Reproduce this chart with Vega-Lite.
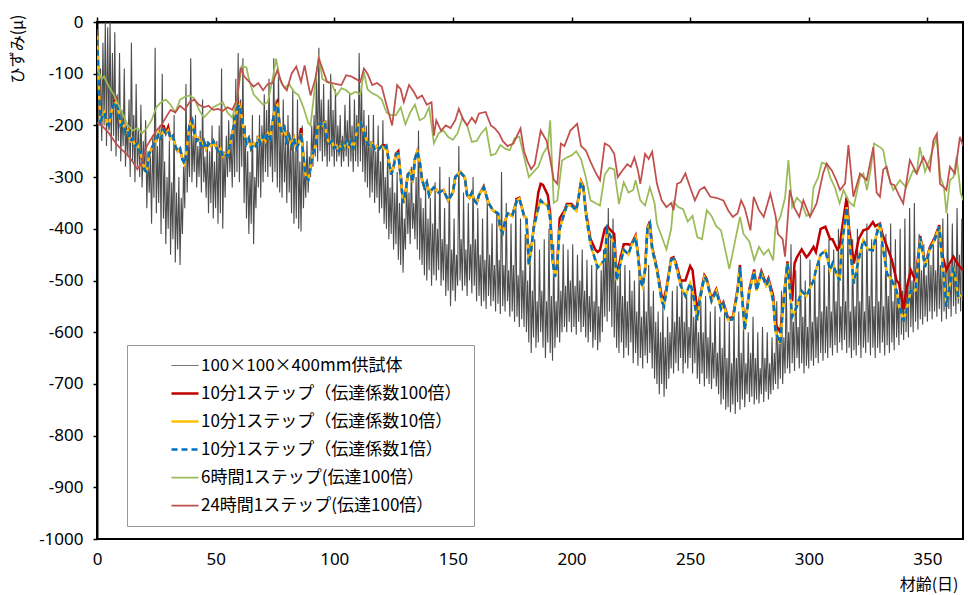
{
"$schema":"https://vega.github.io/schema/vega-lite/v6.json",
"width":866,"height":517,
"autosize":{"type":"none"},
"padding":{"left":97,"top":22,"right":5,"bottom":56},
"background":"white",
"config":{"view":{"stroke":"#000","strokeWidth":2},"font":"Noto Sans","axis":{"grid":false}},
"datasets":{
"g":[{"t":0,"v":-100},{"t":0.5,"v":-60},{"t":1,"v":-190},{"t":1.5,"v":-90},{"t":2,"v":-230},{"t":2.5,"v":-40},{"t":3,"v":-200},{"t":3.5,"v":0},{"t":4,"v":-240},{"t":4.5,"v":-10},{"t":5,"v":-210},{"t":5.5,"v":0},{"t":6,"v":-250},{"t":6.5,"v":-60},{"t":7,"v":-220},{"t":7.5,"v":-20},{"t":8,"v":-260},{"t":8.5,"v":-140},{"t":9,"v":-230},{"t":9.5,"v":-60},
{"t":10,"v":-270},{"t":10.5,"v":-170},{"t":11,"v":-240},{"t":11.5,"v":-90},{"t":12,"v":-280},{"t":12.5,"v":-200},{"t":13,"v":-260},{"t":13.5,"v":-150},{"t":14,"v":-300},{"t":14.5,"v":-40},{"t":15,"v":-270},{"t":15.5,"v":-180},{"t":16,"v":-310},{"t":16.5,"v":-120},{"t":17,"v":-280},{"t":17.5,"v":-210},{"t":18,"v":-300},{"t":18.5,"v":-160},{"t":19,"v":-320},{"t":19.5,"v":-230},
{"t":20,"v":-290},{"t":20.5,"v":-190},{"t":21,"v":-360},{"t":21.5,"v":-250},{"t":22,"v":-330},{"t":22.5,"v":-260},{"t":23,"v":-390},{"t":23.5,"v":-220},{"t":24,"v":-340},{"t":24.5,"v":-50},{"t":25,"v":-370},{"t":25.5,"v":-240},{"t":26,"v":-350},{"t":26.5,"v":-200},{"t":27,"v":-410},{"t":27.5,"v":-100},{"t":28,"v":-380},{"t":28.5,"v":-270},{"t":29,"v":-430},{"t":29.5,"v":-300},
{"t":30,"v":-400},{"t":30.5,"v":-230},{"t":31,"v":-450},{"t":31.5,"v":-310},{"t":32,"v":-420},{"t":32.5,"v":-180},{"t":33,"v":-465},{"t":33.5,"v":-330},{"t":34,"v":-440},{"t":34.5,"v":-300},{"t":35,"v":-470},{"t":35.5,"v":-340},{"t":36,"v":-410},{"t":36.5,"v":-280},{"t":37,"v":-360},{"t":37.5,"v":-120},{"t":38,"v":-330},{"t":38.5,"v":-230},{"t":39,"v":-300},{"t":39.5,"v":-70},
{"t":40,"v":-310},{"t":40.5,"v":-220},{"t":41,"v":-290},{"t":41.5,"v":-180},{"t":42,"v":-320},{"t":42.5,"v":-240},{"t":43,"v":-300},{"t":43.5,"v":-210},{"t":44,"v":-330},{"t":44.5,"v":-150},{"t":45,"v":-310},{"t":45.5,"v":-260},{"t":46,"v":-340},{"t":46.5,"v":-230},{"t":47,"v":-370},{"t":47.5,"v":-250},{"t":48,"v":-350},{"t":48.5,"v":-200},{"t":49,"v":-380},{"t":49.5,"v":-270},
{"t":50,"v":-360},{"t":50.5,"v":-230},{"t":51,"v":-390},{"t":51.5,"v":-200},{"t":52,"v":-370},{"t":52.5,"v":-90},{"t":53,"v":-400},{"t":53.5,"v":-250},{"t":54,"v":-340},{"t":54.5,"v":-220},{"t":55,"v":-300},{"t":55.5,"v":-190},{"t":56,"v":-290},{"t":56.5,"v":-230},{"t":57,"v":-320},{"t":57.5,"v":-180},{"t":58,"v":-300},{"t":58.5,"v":-110},{"t":59,"v":-290},{"t":59.5,"v":-60},
{"t":60,"v":-310},{"t":60.5,"v":-150},{"t":61,"v":-280},{"t":61.5,"v":-70},{"t":62,"v":-350},{"t":62.5,"v":-200},{"t":63,"v":-380},{"t":63.5,"v":-250},{"t":64,"v":-410},{"t":64.5,"v":-290},{"t":65,"v":-390},{"t":65.5,"v":-180},{"t":66,"v":-430},{"t":66.5,"v":-300},{"t":67,"v":-360},{"t":67.5,"v":-220},{"t":68,"v":-320},{"t":68.5,"v":-180},{"t":69,"v":-340},{"t":69.5,"v":-200},
{"t":70,"v":-310},{"t":70.5,"v":-140},{"t":71,"v":-290},{"t":71.5,"v":-170},{"t":72,"v":-300},{"t":72.5,"v":-110},{"t":73,"v":-280},{"t":73.5,"v":-200},{"t":74,"v":-310},{"t":74.5,"v":-70},{"t":75,"v":-290},{"t":75.5,"v":-150},{"t":76,"v":-320},{"t":76.5,"v":-90},{"t":77,"v":-330},{"t":77.5,"v":-210},{"t":78,"v":-340},{"t":78.5,"v":-150},{"t":79,"v":-310},{"t":79.5,"v":-230},
{"t":80,"v":-350},{"t":80.5,"v":-180},{"t":81,"v":-330},{"t":81.5,"v":-240},{"t":82,"v":-370},{"t":82.5,"v":-130},{"t":83,"v":-390},{"t":83.5,"v":-250},{"t":84,"v":-380},{"t":84.5,"v":-150},{"t":85,"v":-400},{"t":85.5,"v":-270},{"t":86,"v":-405},{"t":86.5,"v":-200},{"t":87,"v":-360},{"t":87.5,"v":-280},{"t":88,"v":-340},{"t":88.5,"v":-230},{"t":89,"v":-330},{"t":89.5,"v":-260},
{"t":90,"v":-300},{"t":90.5,"v":-200},{"t":91,"v":-280},{"t":91.5,"v":-180},{"t":92,"v":-260},{"t":92.5,"v":-100},{"t":93,"v":-270},{"t":93.5,"v":-50},{"t":94,"v":-250},{"t":94.5,"v":-150},{"t":95,"v":-270},{"t":95.5,"v":-120},{"t":96,"v":-260},{"t":96.5,"v":-190},{"t":97,"v":-280},{"t":97.5,"v":-150},{"t":98,"v":-270},{"t":98.5,"v":-100},{"t":99,"v":-260},{"t":99.5,"v":-170},
{"t":100,"v":-280},{"t":100.5,"v":-130},{"t":101,"v":-270},{"t":101.5,"v":-200},{"t":102,"v":-260},{"t":102.5,"v":-180},{"t":103,"v":-280},{"t":103.5,"v":-220},{"t":104,"v":-270},{"t":104.5,"v":-160},{"t":105,"v":-260},{"t":105.5,"v":-190},{"t":106,"v":-280},{"t":106.5,"v":-140},{"t":107,"v":-270},{"t":107.5,"v":-200},{"t":108,"v":-290},{"t":108.5,"v":-150},{"t":109,"v":-270},{"t":109.5,"v":-180},
{"t":110,"v":-280},{"t":110.5,"v":-60},{"t":111,"v":-270},{"t":111.5,"v":-120},{"t":112,"v":-290},{"t":112.5,"v":-170},{"t":113,"v":-310},{"t":113.5,"v":-200},{"t":114,"v":-320},{"t":114.5,"v":-180},{"t":115,"v":-340},{"t":115.5,"v":-230},{"t":116,"v":-330},{"t":116.5,"v":-180},{"t":117,"v":-350},{"t":117.5,"v":-250},{"t":118,"v":-340},{"t":118.5,"v":-200},{"t":119,"v":-370},{"t":119.5,"v":-270},
{"t":120,"v":-360},{"t":120.5,"v":-190},{"t":121,"v":-390},{"t":121.5,"v":-300},{"t":122,"v":-400},{"t":122.5,"v":-250},{"t":123,"v":-420},{"t":123.5,"v":-320},{"t":124,"v":-410},{"t":124.5,"v":-280},{"t":125,"v":-440},{"t":125.5,"v":-330},{"t":126,"v":-430},{"t":126.5,"v":-290},{"t":127,"v":-460},{"t":127.5,"v":-350},{"t":128,"v":-470},{"t":128.5,"v":-300},{"t":129,"v":-485},{"t":129.5,"v":-380},
{"t":130,"v":-440},{"t":130.5,"v":-300},{"t":131,"v":-410},{"t":131.5,"v":-330},{"t":132,"v":-430},{"t":132.5,"v":-280},{"t":133,"v":-400},{"t":133.5,"v":-350},{"t":134,"v":-420},{"t":134.5,"v":-300},{"t":135,"v":-440},{"t":135.5,"v":-210},{"t":136,"v":-460},{"t":136.5,"v":-340},{"t":137,"v":-470},{"t":137.5,"v":-360},{"t":138,"v":-490},{"t":138.5,"v":-320},{"t":139,"v":-500},{"t":139.5,"v":-380},
{"t":140,"v":-480},{"t":140.5,"v":-340},{"t":141,"v":-510},{"t":141.5,"v":-390},{"t":142,"v":-490},{"t":142.5,"v":-310},{"t":143,"v":-500},{"t":143.5,"v":-400},{"t":144,"v":-480},{"t":144.5,"v":-280},{"t":145,"v":-510},{"t":145.5,"v":-420},{"t":146,"v":-500},{"t":146.5,"v":-360},{"t":147,"v":-530},{"t":147.5,"v":-430},{"t":148,"v":-520},{"t":148.5,"v":-300},{"t":149,"v":-550},{"t":149.5,"v":-440},
{"t":150,"v":-520},{"t":150.5,"v":-380},{"t":151,"v":-540},{"t":151.5,"v":-450},{"t":152,"v":-510},{"t":152.5,"v":-240},{"t":153,"v":-500},{"t":153.5,"v":-420},{"t":154,"v":-520},{"t":154.5,"v":-330},{"t":155,"v":-510},{"t":155.5,"v":-440},{"t":156,"v":-530},{"t":156.5,"v":-350},{"t":157,"v":-500},{"t":157.5,"v":-430},{"t":158,"v":-525},{"t":158.5,"v":-300},{"t":159,"v":-510},{"t":159.5,"v":-420},
{"t":160,"v":-540},{"t":160.5,"v":-360},{"t":161,"v":-530},{"t":161.5,"v":-450},{"t":162,"v":-550},{"t":162.5,"v":-380},{"t":163,"v":-540},{"t":163.5,"v":-460},{"t":164,"v":-555},{"t":164.5,"v":-340},{"t":165,"v":-530},{"t":165.5,"v":-450},{"t":166,"v":-550},{"t":166.5,"v":-390},{"t":167,"v":-540},{"t":167.5,"v":-470},{"t":168,"v":-560},{"t":168.5,"v":-370},{"t":169,"v":-545},{"t":169.5,"v":-460},
{"t":170,"v":-565},{"t":170.5,"v":-290},{"t":171,"v":-550},{"t":171.5,"v":-470},{"t":172,"v":-560},{"t":172.5,"v":-350},{"t":173,"v":-540},{"t":173.5,"v":-480},{"t":174,"v":-570},{"t":174.5,"v":-390},{"t":175,"v":-560},{"t":175.5,"v":-470},{"t":176,"v":-580},{"t":176.5,"v":-340},{"t":177,"v":-570},{"t":177.5,"v":-490},{"t":178,"v":-590},{"t":178.5,"v":-380},{"t":179,"v":-575},{"t":179.5,"v":-480},
{"t":180,"v":-590},{"t":180.5,"v":-410},{"t":181,"v":-600},{"t":181.5,"v":-500},{"t":182,"v":-620},{"t":182.5,"v":-430},{"t":183,"v":-640},{"t":183.5,"v":-520},{"t":184,"v":-610},{"t":184.5,"v":-420},{"t":185,"v":-630},{"t":185.5,"v":-540},{"t":186,"v":-620},{"t":186.5,"v":-440},{"t":187,"v":-600},{"t":187.5,"v":-520},{"t":188,"v":-630},{"t":188.5,"v":-420},{"t":189,"v":-650},{"t":189.5,"v":-540},
{"t":190,"v":-620},{"t":190.5,"v":-400},{"t":191,"v":-640},{"t":191.5,"v":-530},{"t":192,"v":-655},{"t":192.5,"v":-430},{"t":193,"v":-630},{"t":193.5,"v":-540},{"t":194,"v":-610},{"t":194.5,"v":-460},{"t":195,"v":-620},{"t":195.5,"v":-520},{"t":196,"v":-600},{"t":196.5,"v":-430},{"t":197,"v":-590},{"t":197.5,"v":-510},{"t":198,"v":-600},{"t":198.5,"v":-440},{"t":199,"v":-580},{"t":199.5,"v":-500},
{"t":200,"v":-600},{"t":200.5,"v":-430},{"t":201,"v":-590},{"t":201.5,"v":-510},{"t":202,"v":-605},{"t":202.5,"v":-450},{"t":203,"v":-580},{"t":203.5,"v":-500},{"t":204,"v":-600},{"t":204.5,"v":-440},{"t":205,"v":-590},{"t":205.5,"v":-520},{"t":206,"v":-610},{"t":206.5,"v":-460},{"t":207,"v":-620},{"t":207.5,"v":-530},{"t":208,"v":-600},{"t":208.5,"v":-470},{"t":209,"v":-630},{"t":209.5,"v":-540},
{"t":210,"v":-615},{"t":210.5,"v":-460},{"t":211,"v":-635},{"t":211.5,"v":-550},{"t":212,"v":-620},{"t":212.5,"v":-480},{"t":213,"v":-600},{"t":213.5,"v":-440},{"t":214,"v":-570},{"t":214.5,"v":-400},{"t":215,"v":-580},{"t":215.5,"v":-360},{"t":216,"v":-560},{"t":216.5,"v":-420},{"t":217,"v":-590},{"t":217.5,"v":-380},{"t":218,"v":-610},{"t":218.5,"v":-470},{"t":219,"v":-630},{"t":219.5,"v":-510},
{"t":220,"v":-640},{"t":220.5,"v":-450},{"t":221,"v":-620},{"t":221.5,"v":-530},{"t":222,"v":-650},{"t":222.5,"v":-470},{"t":223,"v":-630},{"t":223.5,"v":-540},{"t":224,"v":-645},{"t":224.5,"v":-480},{"t":225,"v":-620},{"t":225.5,"v":-520},{"t":226,"v":-660},{"t":226.5,"v":-500},{"t":227,"v":-640},{"t":227.5,"v":-560},{"t":228,"v":-665},{"t":228.5,"v":-480},{"t":229,"v":-650},{"t":229.5,"v":-570},
{"t":230,"v":-670},{"t":230.5,"v":-510},{"t":231,"v":-645},{"t":231.5,"v":-560},{"t":232,"v":-660},{"t":232.5,"v":-470},{"t":233,"v":-640},{"t":233.5,"v":-550},{"t":234,"v":-670},{"t":234.5,"v":-520},{"t":235,"v":-690},{"t":235.5,"v":-580},{"t":236,"v":-700},{"t":236.5,"v":-560},{"t":237,"v":-720},{"t":237.5,"v":-600},{"t":238,"v":-700},{"t":238.5,"v":-550},{"t":239,"v":-725},{"t":239.5,"v":-610},
{"t":240,"v":-710},{"t":240.5,"v":-570},{"t":241,"v":-690},{"t":241.5,"v":-600},{"t":242,"v":-670},{"t":242.5,"v":-520},{"t":243,"v":-680},{"t":243.5,"v":-580},{"t":244,"v":-660},{"t":244.5,"v":-510},{"t":245,"v":-675},{"t":245.5,"v":-570},{"t":246,"v":-650},{"t":246.5,"v":-500},{"t":247,"v":-680},{"t":247.5,"v":-580},{"t":248,"v":-660},{"t":248.5,"v":-520},{"t":249,"v":-670},{"t":249.5,"v":-590},
{"t":250,"v":-650},{"t":250.5,"v":-510},{"t":251,"v":-680},{"t":251.5,"v":-570},{"t":252,"v":-660},{"t":252.5,"v":-530},{"t":253,"v":-690},{"t":253.5,"v":-600},{"t":254,"v":-700},{"t":254.5,"v":-540},{"t":255,"v":-680},{"t":255.5,"v":-600},{"t":256,"v":-705},{"t":256.5,"v":-530},{"t":257,"v":-690},{"t":257.5,"v":-610},{"t":258,"v":-700},{"t":258.5,"v":-560},{"t":259,"v":-710},{"t":259.5,"v":-620},
{"t":260,"v":-690},{"t":260.5,"v":-550},{"t":261,"v":-705},{"t":261.5,"v":-640},{"t":262,"v":-720},{"t":262.5,"v":-570},{"t":263,"v":-740},{"t":263.5,"v":-630},{"t":264,"v":-730},{"t":264.5,"v":-560},{"t":265,"v":-750},{"t":265.5,"v":-650},{"t":266,"v":-745},{"t":266.5,"v":-580},{"t":267,"v":-755},{"t":267.5,"v":-660},{"t":268,"v":-740},{"t":268.5,"v":-570},{"t":269,"v":-758},{"t":269.5,"v":-650},
{"t":270,"v":-735},{"t":270.5,"v":-560},{"t":271,"v":-750},{"t":271.5,"v":-640},{"t":272,"v":-730},{"t":272.5,"v":-580},{"t":273,"v":-745},{"t":273.5,"v":-660},{"t":274,"v":-720},{"t":274.5,"v":-600},{"t":275,"v":-735},{"t":275.5,"v":-640},{"t":276,"v":-725},{"t":276.5,"v":-570},{"t":277,"v":-740},{"t":277.5,"v":-650},{"t":278,"v":-730},{"t":278.5,"v":-600},{"t":279,"v":-738},{"t":279.5,"v":-670},
{"t":280,"v":-720},{"t":280.5,"v":-590},{"t":281,"v":-735},{"t":281.5,"v":-650},{"t":282,"v":-715},{"t":282.5,"v":-600},{"t":283,"v":-730},{"t":283.5,"v":-660},{"t":284,"v":-720},{"t":284.5,"v":-610},{"t":285,"v":-712},{"t":285.5,"v":-640},{"t":286,"v":-700},{"t":286.5,"v":-540},{"t":287,"v":-710},{"t":287.5,"v":-620},{"t":288,"v":-690},{"t":288.5,"v":-520},{"t":289,"v":-700},{"t":289.5,"v":-610},
{"t":290,"v":-680},{"t":290.5,"v":-500},{"t":291,"v":-670},{"t":291.5,"v":-600},{"t":292,"v":-680},{"t":292.5,"v":-430},{"t":293,"v":-660},{"t":293.5,"v":-580},{"t":294,"v":-675},{"t":294.5,"v":-480},{"t":295,"v":-650},{"t":295.5,"v":-590},{"t":296,"v":-670},{"t":296.5,"v":-450},{"t":297,"v":-660},{"t":297.5,"v":-570},{"t":298,"v":-680},{"t":298.5,"v":-500},{"t":299,"v":-665},{"t":299.5,"v":-590},
{"t":300,"v":-670},{"t":300.5,"v":-460},{"t":301,"v":-655},{"t":301.5,"v":-580},{"t":302,"v":-665},{"t":302.5,"v":-480},{"t":303,"v":-650},{"t":303.5,"v":-570},{"t":304,"v":-660},{"t":304.5,"v":-450},{"t":305,"v":-640},{"t":305.5,"v":-560},{"t":306,"v":-655},{"t":306.5,"v":-470},{"t":307,"v":-640},{"t":307.5,"v":-550},{"t":308,"v":-650},{"t":308.5,"v":-420},{"t":309,"v":-630},{"t":309.5,"v":-560},
{"t":310,"v":-645},{"t":310.5,"v":-440},{"t":311,"v":-625},{"t":311.5,"v":-540},{"t":312,"v":-640},{"t":312.5,"v":-400},{"t":313,"v":-620},{"t":313.5,"v":-550},{"t":314,"v":-635},{"t":314.5,"v":-430},{"t":315,"v":-615},{"t":315.5,"v":-540},{"t":316,"v":-640},{"t":316.5,"v":-390},{"t":317,"v":-630},{"t":317.5,"v":-560},{"t":318,"v":-650},{"t":318.5,"v":-420},{"t":319,"v":-635},{"t":319.5,"v":-550},
{"t":320,"v":-645},{"t":320.5,"v":-400},{"t":321,"v":-625},{"t":321.5,"v":-540},{"t":322,"v":-650},{"t":322.5,"v":-430},{"t":323,"v":-630},{"t":323.5,"v":-560},{"t":324,"v":-640},{"t":324.5,"v":-390},{"t":325,"v":-620},{"t":325.5,"v":-530},{"t":326,"v":-645},{"t":326.5,"v":-420},{"t":327,"v":-630},{"t":327.5,"v":-550},{"t":328,"v":-650},{"t":328.5,"v":-400},{"t":329,"v":-630},{"t":329.5,"v":-540},
{"t":330,"v":-640},{"t":330.5,"v":-430},{"t":331,"v":-620},{"t":331.5,"v":-550},{"t":332,"v":-645},{"t":332.5,"v":-410},{"t":333,"v":-625},{"t":333.5,"v":-530},{"t":334,"v":-640},{"t":334.5,"v":-390},{"t":335,"v":-620},{"t":335.5,"v":-540},{"t":336,"v":-635},{"t":336.5,"v":-420},{"t":337,"v":-610},{"t":337.5,"v":-530},{"t":338,"v":-625},{"t":338.5,"v":-400},{"t":339,"v":-605},{"t":339.5,"v":-520},
{"t":340,"v":-615},{"t":340.5,"v":-380},{"t":341,"v":-600},{"t":341.5,"v":-510},{"t":342,"v":-610},{"t":342.5,"v":-360},{"t":343,"v":-590},{"t":343.5,"v":-500},{"t":344,"v":-600},{"t":344.5,"v":-350},{"t":345,"v":-580},{"t":345.5,"v":-490},{"t":346,"v":-595},{"t":346.5,"v":-410},{"t":347,"v":-575},{"t":347.5,"v":-480},{"t":348,"v":-585},{"t":348.5,"v":-430},{"t":349,"v":-570},{"t":349.5,"v":-490},
{"t":350,"v":-580},{"t":350.5,"v":-440},{"t":351,"v":-560},{"t":351.5,"v":-470},{"t":352,"v":-575},{"t":352.5,"v":-420},{"t":353,"v":-560},{"t":353.5,"v":-480},{"t":354,"v":-570},{"t":354.5,"v":-400},{"t":355,"v":-555},{"t":355.5,"v":-470},{"t":356,"v":-580},{"t":356.5,"v":-380},{"t":357,"v":-560},{"t":357.5,"v":-480},{"t":358,"v":-575},{"t":358.5,"v":-370},{"t":359,"v":-555},{"t":359.5,"v":-470},
{"t":360,"v":-570},{"t":360.5,"v":-390},{"t":361,"v":-550},{"t":361.5,"v":-460},{"t":362,"v":-565},{"t":362.5,"v":-360},{"t":363,"v":-545},{"t":363.5,"v":-450},{"t":364,"v":-560},{"t":364.5,"v":-380},{"t":365,"v":-540}],
"m":[{"t":0,"b":-15,"c":-15,"d":-15},{"t":0.5,"b":-90,"c":-90,"d":-90},{"t":1,"b":-150,"c":-150,"d":-150},{"t":1.5,"b":-200,"c":-200,"d":-200},{"t":2,"b":-185,"c":-185,"d":-185},{"t":3,"b":-175,"c":-175,"d":-175},{"t":4,"b":-190,"c":-190,"d":-190},{"t":5,"b":-200,"c":-200,"d":-200},{"t":6,"b":-175,"c":-175,"d":-175},{"t":7,"b":-160,"c":-160,"d":-160},{"t":8,"b":-150,"c":-155,"d":-155},{"t":9,"b":-170,"c":-170,"d":-170},
{"t":10,"b":-200,"c":-200,"d":-200},{"t":11,"b":-195,"c":-195,"d":-195},{"t":12,"b":-215,"c":-215,"d":-215},{"t":13,"b":-210,"c":-210,"d":-210},{"t":14,"b":-230,"c":-230,"d":-230},{"t":15,"b":-225,"c":-225,"d":-225},{"t":16,"b":-240,"c":-240,"d":-240},{"t":17,"b":-235,"c":-235,"d":-235},{"t":18,"b":-250,"c":-250,"d":-250},{"t":19,"b":-265,"c":-265,"d":-265},
{"t":20,"b":-285,"c":-285,"d":-285},{"t":21,"b":-290,"c":-290,"d":-290},{"t":22,"b":-255,"c":-255,"d":-255},{"t":23,"b":-245,"c":-245,"d":-245},{"t":24,"b":-235,"c":-235,"d":-235},{"t":25,"b":-230,"c":-230,"d":-230},{"t":26,"b":-215,"c":-215,"d":-215},{"t":27,"b":-225,"c":-225,"d":-225},{"t":28,"b":-200,"c":-208,"d":-208},{"t":29,"b":-215,"c":-215,"d":-215},
{"t":30,"b":-203,"c":-210,"d":-210},{"t":31,"b":-225,"c":-225,"d":-225},{"t":32,"b":-220,"c":-220,"d":-220},{"t":33,"b":-240,"c":-240,"d":-240},{"t":34,"b":-250,"c":-250,"d":-250},{"t":35,"b":-245,"c":-245,"d":-245},{"t":36,"b":-265,"c":-265,"d":-265},{"t":37,"b":-275,"c":-275,"d":-275},{"t":38,"b":-240,"c":-240,"d":-240},{"t":39,"b":-200,"c":-200,"d":-200},
{"t":40,"b":-185,"c":-190,"d":-190},{"t":41,"b":-215,"c":-215,"d":-215},{"t":42,"b":-230,"c":-230,"d":-230},{"t":43,"b":-225,"c":-225,"d":-225},{"t":44,"b":-240,"c":-240,"d":-240},{"t":45,"b":-230,"c":-230,"d":-230},{"t":46,"b":-245,"c":-245,"d":-245},{"t":47,"b":-235,"c":-235,"d":-235},{"t":48,"b":-240,"c":-240,"d":-240},{"t":49,"b":-230,"c":-230,"d":-230},
{"t":50,"b":-240,"c":-240,"d":-240},{"t":51,"b":-250,"c":-250,"d":-250},{"t":52,"b":-245,"c":-245,"d":-245},{"t":53,"b":-260,"c":-260,"d":-260},{"t":54,"b":-255,"c":-255,"d":-255},{"t":55,"b":-260,"c":-260,"d":-260},{"t":56,"b":-240,"c":-240,"d":-240},{"t":57,"b":-215,"c":-215,"d":-215},{"t":58,"b":-195,"c":-195,"d":-195},{"t":59,"b":-170,"c":-170,"d":-170},
{"t":60,"b":-155,"c":-160,"d":-160},{"t":61,"b":-185,"c":-185,"d":-185},{"t":62,"b":-215,"c":-215,"d":-215},{"t":63,"b":-235,"c":-235,"d":-235},{"t":64,"b":-225,"c":-225,"d":-225},{"t":65,"b":-245,"c":-245,"d":-245},{"t":66,"b":-235,"c":-235,"d":-235},{"t":67,"b":-240,"c":-240,"d":-240},{"t":68,"b":-225,"c":-225,"d":-225},{"t":69,"b":-235,"c":-235,"d":-235},
{"t":70,"b":-220,"c":-220,"d":-220},{"t":71,"b":-230,"c":-230,"d":-230},{"t":72,"b":-215,"c":-215,"d":-215},{"t":73,"b":-225,"c":-225,"d":-225},{"t":74,"b":-195,"c":-195,"d":-195},{"t":75,"b":-165,"c":-165,"d":-165},{"t":76,"b":-155,"c":-160,"d":-160},{"t":77,"b":-200,"c":-200,"d":-200},{"t":78,"b":-215,"c":-215,"d":-215},{"t":79,"b":-205,"c":-205,"d":-205},
{"t":80,"b":-230,"c":-230,"d":-230},{"t":81,"b":-220,"c":-220,"d":-220},{"t":82,"b":-240,"c":-240,"d":-240},{"t":83,"b":-225,"c":-225,"d":-225},{"t":84,"b":-245,"c":-245,"d":-245},{"t":85,"b":-235,"c":-235,"d":-235},{"t":86,"b":-205,"c":-215,"d":-215},{"t":87,"b":-260,"c":-260,"d":-260},{"t":88,"b":-300,"c":-300,"d":-300},{"t":89,"b":-305,"c":-305,"d":-305},
{"t":90,"b":-280,"c":-280,"d":-280},{"t":91,"b":-255,"c":-255,"d":-255},{"t":92,"b":-240,"c":-240,"d":-240},{"t":93,"b":-205,"c":-205,"d":-205},{"t":94,"b":-195,"c":-195,"d":-195},{"t":95,"b":-200,"c":-200,"d":-200},{"t":96,"b":-195,"c":-195,"d":-195},{"t":97,"b":-225,"c":-225,"d":-225},{"t":98,"b":-235,"c":-235,"d":-235},{"t":99,"b":-230,"c":-230,"d":-230},
{"t":100,"b":-245,"c":-245,"d":-245},{"t":101,"b":-240,"c":-240,"d":-240},{"t":102,"b":-250,"c":-250,"d":-250},{"t":103,"b":-235,"c":-235,"d":-235},{"t":104,"b":-245,"c":-245,"d":-245},{"t":105,"b":-230,"c":-230,"d":-230},{"t":106,"b":-240,"c":-240,"d":-240},{"t":107,"b":-230,"c":-230,"d":-230},{"t":108,"b":-245,"c":-245,"d":-245},{"t":109,"b":-225,"c":-225,"d":-225},
{"t":110,"b":-200,"c":-200,"d":-200},{"t":111,"b":-195,"c":-195,"d":-195},{"t":112,"b":-205,"c":-205,"d":-205},{"t":113,"b":-220,"c":-220,"d":-220},{"t":114,"b":-235,"c":-235,"d":-235},{"t":115,"b":-240,"c":-240,"d":-240},{"t":116,"b":-235,"c":-235,"d":-235},{"t":117,"b":-245,"c":-245,"d":-245},{"t":118,"b":-240,"c":-240,"d":-240},{"t":119,"b":-245,"c":-245,"d":-245},
{"t":120,"b":-240,"c":-240,"d":-240},{"t":121,"b":-238,"c":-245,"d":-245},{"t":122,"b":-240,"c":-240,"d":-240},{"t":123,"b":-270,"c":-270,"d":-270},{"t":124,"b":-295,"c":-295,"d":-295},{"t":125,"b":-280,"c":-280,"d":-280},{"t":126,"b":-255,"c":-255,"d":-255},{"t":127,"b":-250,"c":-255,"d":-255},{"t":128,"b":-300,"c":-300,"d":-300},{"t":129,"b":-350,"c":-350,"d":-350},
{"t":130,"b":-330,"c":-330,"d":-330},{"t":131,"b":-295,"c":-295,"d":-295},{"t":132,"b":-290,"c":-290,"d":-290},{"t":133,"b":-310,"c":-310,"d":-310},{"t":134,"b":-265,"c":-265,"d":-265},{"t":135,"b":-250,"c":-250,"d":-250},{"t":136,"b":-270,"c":-270,"d":-270},{"t":137,"b":-305,"c":-305,"d":-305},{"t":138,"b":-320,"c":-320,"d":-320},{"t":139,"b":-310,"c":-310,"d":-310},
{"t":140,"b":-335,"c":-335,"d":-335},{"t":141,"b":-325,"c":-325,"d":-325},{"t":142,"b":-320,"c":-320,"d":-320},{"t":144,"b":-330,"c":-330,"d":-330},{"t":146,"b":-325,"c":-325,"d":-325},{"t":148,"b":-345,"c":-345,"d":-345},{"t":150,"b":-330,"c":-330,"d":-330},{"t":151,"b":-300,"c":-300,"d":-300},{"t":153,"b":-290,"c":-290,"d":-290},{"t":155,"b":-300,"c":-300,"d":-300},
{"t":156,"b":-335,"c":-335,"d":-335},{"t":157,"b":-340,"c":-340,"d":-340},{"t":158,"b":-330,"c":-330,"d":-330},{"t":159,"b":-345,"c":-345,"d":-345},{"t":160,"b":-350,"c":-350,"d":-350},{"t":161,"b":-335,"c":-335,"d":-335},{"t":163,"b":-318,"c":-320,"d":-320},{"t":165,"b":-350,"c":-350,"d":-350},{"t":167,"b":-365,"c":-365,"d":-365},{"t":169,"b":-370,"c":-370,"d":-370},
{"t":170,"b":-400,"c":-400,"d":-400},{"t":171,"b":-405,"c":-408,"d":-408},{"t":172,"b":-385,"c":-385,"d":-385},{"t":173,"b":-370,"c":-370,"d":-370},{"t":175,"b":-375,"c":-375,"d":-375},{"t":177,"b":-342,"c":-345,"d":-345},{"t":178,"b":-340,"c":-342,"d":-342},{"t":180,"b":-375,"c":-375,"d":-375},{"t":181,"b":-380,"c":-380,"d":-380},{"t":182,"b":-465,"c":-470,"d":-470},
{"t":183,"b":-440,"c":-440,"d":-440},{"t":184,"b":-400,"c":-400,"d":-400},{"t":186,"b":-330,"c":-360,"d":-360},{"t":187,"b":-313,"c":-345,"d":-345},{"t":188,"b":-315,"c":-350,"d":-350},{"t":190,"b":-335,"c":-355,"d":-355},{"t":191,"b":-370,"c":-380,"d":-380},{"t":192,"b":-460,"c":-460,"d":-460},{"t":193,"b":-490,"c":-493,"d":-493},{"t":194,"b":-465,"c":-470,"d":-470},
{"t":195,"b":-380,"c":-400,"d":-400},{"t":197,"b":-365,"c":-370,"d":-370},{"t":198,"b":-352,"c":-355,"d":-355},{"t":200,"b":-352,"c":-355,"d":-355},{"t":202,"b":-362,"c":-365,"d":-365},{"t":203,"b":-338,"c":-340,"d":-340},{"t":204,"b":-308,"c":-310,"d":-310},{"t":205,"b":-318,"c":-320,"d":-320},{"t":206,"b":-365,"c":-370,"d":-370},{"t":208,"b":-420,"c":-430,"d":-430},
{"t":210,"b":-440,"c":-460,"d":-460},{"t":211,"b":-445,"c":-475,"d":-475},{"t":212,"b":-441,"c":-470,"d":-470},{"t":214,"b":-400,"c":-460,"d":-460},{"t":215,"b":-395,"c":-400,"d":-400},{"t":216,"b":-400,"c":-410,"d":-410},{"t":218,"b":-410,"c":-430,"d":-430},{"t":219,"b":-490,"c":-500,"d":-500},{"t":220,"b":-470,"c":-480,"d":-480},{"t":222,"b":-430,"c":-440,"d":-440},
{"t":224,"b":-430,"c":-450,"d":-450},{"t":225,"b":-432,"c":-435,"d":-435},{"t":227,"b":-413,"c":-416,"d":-416},{"t":228,"b":-448,"c":-450,"d":-450},{"t":229,"b":-495,"c":-500,"d":-500},{"t":230,"b":-508,"c":-512,"d":-512},{"t":231,"b":-478,"c":-480,"d":-480},{"t":232,"b":-398,"c":-400,"d":-400},{"t":233,"b":-386,"c":-390,"d":-390},{"t":234,"b":-436,"c":-440,"d":-440},
{"t":236,"b":-476,"c":-480,"d":-480},{"t":238,"b":-530,"c":-540,"d":-540},{"t":239,"b":-535,"c":-550,"d":-550},{"t":240,"b":-515,"c":-520,"d":-520},{"t":242,"b":-457,"c":-460,"d":-460},{"t":243,"b":-455,"c":-458,"d":-458},{"t":244,"b":-466,"c":-470,"d":-470},{"t":246,"b":-500,"c":-510,"d":-510},{"t":248,"b":-500,"c":-530,"d":-530},{"t":250,"b":-472,"c":-505,"d":-505},
{"t":251,"b":-480,"c":-520,"d":-520},{"t":253,"b":-560,"c":-577,"d":-577},{"t":254,"b":-535,"c":-540,"d":-540},{"t":256,"b":-490,"c":-493,"d":-493},{"t":257,"b":-497,"c":-500,"d":-500},{"t":259,"b":-536,"c":-540,"d":-540},{"t":261,"b":-517,"c":-520,"d":-520},{"t":263,"b":-550,"c":-555,"d":-555},{"t":264,"b":-542,"c":-545,"d":-545},{"t":266,"b":-573,"c":-577,"d":-577},
{"t":268,"b":-571,"c":-575,"d":-575},{"t":270,"b":-516,"c":-520,"d":-520},{"t":271,"b":-470,"c":-474,"d":-474},{"t":272,"b":-536,"c":-540,"d":-540},{"t":273,"b":-590,"c":-596,"d":-596},{"t":275,"b":-516,"c":-520,"d":-520},{"t":277,"b":-479,"c":-483,"d":-483},{"t":278,"b":-516,"c":-520,"d":-520},{"t":280,"b":-482,"c":-486,"d":-486},{"t":282,"b":-506,"c":-510,"d":-510},
{"t":283,"b":-496,"c":-500,"d":-500},{"t":285,"b":-530,"c":-540,"d":-540},{"t":286,"b":-585,"c":-600,"d":-600},{"t":288,"b":-600,"c":-622,"d":-622},{"t":289,"b":-555,"c":-560,"d":-560},{"t":291,"b":-463,"c":-467,"d":-467},{"t":293,"b":-540,"c":-570,"d":-570},{"t":294,"b":-467,"c":-560,"d":-560},{"t":295,"b":-455,"c":-550,"d":-550},{"t":297,"b":-440,"c":-520,"d":-520},
{"t":299,"b":-455,"c":-530,"d":-530},{"t":300,"b":-450,"c":-520,"d":-520},{"t":302,"b":-435,"c":-500,"d":-500},{"t":303,"b":-445,"c":-480,"d":-480},{"t":305,"b":-400,"c":-450,"d":-450},{"t":307,"b":-396,"c":-442,"d":-442},{"t":309,"b":-420,"c":-480,"d":-480},{"t":310,"b":-420,"c":-467,"d":-467},{"t":312,"b":-440,"c":-490,"d":-490},{"t":313,"b":-435,"c":-500,"d":-500},
{"t":314,"b":-400,"c":-430,"d":-430},{"t":316,"b":-338,"c":-358,"d":-358},{"t":317,"b":-400,"c":-420,"d":-420},{"t":319,"b":-467,"c":-506,"d":-506},{"t":321,"b":-420,"c":-460,"d":-460},{"t":323,"b":-403,"c":-422,"d":-422},{"t":325,"b":-400,"c":-440,"d":-440},{"t":327,"b":-387,"c":-442,"d":-442},{"t":328,"b":-395,"c":-420,"d":-420},{"t":330,"b":-390,"c":-390,"d":-390},
{"t":331,"b":-410,"c":-430,"d":-430},{"t":333,"b":-435,"c":-487,"d":-487},{"t":335,"b":-460,"c":-500,"d":-500},{"t":337,"b":-500,"c":-519,"d":-519},{"t":338,"b":-506,"c":-550,"d":-550},{"t":340,"b":-555,"c":-577,"d":-577},{"t":341,"b":-520,"c":-560,"d":-560},{"t":343,"b":-480,"c":-520,"d":-520},{"t":345,"b":-500,"c":-519,"d":-519},{"t":347,"b":-414,"c":-416,"d":-416},
{"t":349,"b":-470,"c":-474,"d":-474},{"t":351,"b":-436,"c":-440,"d":-440},{"t":353,"b":-418,"c":-422,"d":-422},{"t":355,"b":-393,"c":-396,"d":-396},{"t":356,"b":-446,"c":-450,"d":-450},{"t":358,"b":-480,"c":-551,"d":-551},{"t":359,"b":-470,"c":-520,"d":-520},{"t":361,"b":-454,"c":-474,"d":-474},{"t":363,"b":-470,"c":-532,"d":-532},{"t":365,"b":-480,"c":-525,"d":-525}],
"h":[{"s":"e","t":0,"v":-90},{"s":"e","t":2,"v":-110},{"s":"e","t":3,"v":-105},{"s":"e","t":5,"v":-125},{"s":"e","t":7,"v":-140},{"s":"e","t":9,"v":-160},{"s":"e","t":11,"v":-180},{"s":"e","t":13,"v":-200},{"s":"e","t":15,"v":-210},{"s":"e","t":17,"v":-205},{"s":"e","t":19,"v":-215},{"s":"e","t":21,"v":-205},{"s":"e","t":23,"v":-190},{"s":"e","t":25,"v":-165},{"s":"e","t":27,"v":-155},{"s":"e","t":29,"v":-150},{"s":"e","t":31,"v":-160},{"s":"e","t":33,"v":-175},{"s":"e","t":35,"v":-150},{"s":"e","t":37,"v":-145},{"s":"e","t":39,"v":-142},
{"s":"e","t":41,"v":-148},{"s":"e","t":43,"v":-170},{"s":"e","t":45,"v":-185},{"s":"e","t":47,"v":-175},{"s":"e","t":49,"v":-165},{"s":"e","t":51,"v":-160},{"s":"e","t":53,"v":-155},{"s":"e","t":55,"v":-175},{"s":"e","t":57,"v":-185},{"s":"e","t":59,"v":-150},{"s":"e","t":61,"v":-85},{"s":"e","t":63,"v":-88},{"s":"e","t":64,"v":-110},{"s":"e","t":66,"v":-140},{"s":"e","t":68,"v":-150},{"s":"e","t":70,"v":-160},{"s":"e","t":72,"v":-155},{"s":"e","t":74,"v":-110},{"s":"e","t":75.5,"v":-71},{"s":"e","t":77,"v":-110},{"s":"e","t":79,"v":-128},
{"s":"e","t":81,"v":-120},{"s":"e","t":83,"v":-135},{"s":"e","t":85,"v":-142},{"s":"e","t":87,"v":-165},{"s":"e","t":89,"v":-195},{"s":"e","t":90,"v":-200},{"s":"e","t":92,"v":-120},{"s":"e","t":93.5,"v":-64},{"s":"e","t":95,"v":-110},{"s":"e","t":97,"v":-116},{"s":"e","t":99,"v":-120},{"s":"e","t":101,"v":-142},{"s":"e","t":103,"v":-128},{"s":"e","t":105,"v":-132},{"s":"e","t":107,"v":-140},{"s":"e","t":109,"v":-135},{"s":"e","t":111,"v":-140},{"s":"e","t":112.5,"v":-97},{"s":"e","t":114,"v":-130},{"s":"e","t":116,"v":-138},{"s":"e","t":118,"v":-142},
{"s":"e","t":120,"v":-150},{"s":"e","t":122,"v":-175},{"s":"e","t":124,"v":-180},{"s":"e","t":126,"v":-180},{"s":"e","t":128,"v":-165},{"s":"e","t":130,"v":-198},{"s":"e","t":132,"v":-175},{"s":"e","t":134,"v":-160},{"s":"e","t":136,"v":-190},{"s":"e","t":138,"v":-185},{"s":"e","t":140,"v":-165},{"s":"e","t":142,"v":-235},{"s":"e","t":144,"v":-215},{"s":"e","t":146,"v":-210},{"s":"e","t":148,"v":-222},{"s":"e","t":150,"v":-228},{"s":"e","t":152,"v":-215},{"s":"e","t":154,"v":-185},{"s":"e","t":156,"v":-200},{"s":"e","t":158,"v":-232},{"s":"e","t":160,"v":-230},
{"s":"e","t":162,"v":-215},{"s":"e","t":164,"v":-205},{"s":"e","t":166,"v":-258},{"s":"e","t":168,"v":-255},{"s":"e","t":170,"v":-238},{"s":"e","t":172,"v":-245},{"s":"e","t":174,"v":-248},{"s":"e","t":176,"v":-225},{"s":"e","t":178,"v":-222},{"s":"e","t":180,"v":-260},{"s":"e","t":182,"v":-300},{"s":"e","t":184,"v":-290},{"s":"e","t":186,"v":-280},{"s":"e","t":188,"v":-255},{"s":"e","t":190,"v":-240},{"s":"e","t":191,"v":-190},{"s":"e","t":192.5,"v":-350},{"s":"e","t":194,"v":-345},{"s":"e","t":196,"v":-268},{"s":"e","t":198,"v":-262},
{"s":"e","t":200,"v":-258},{"s":"e","t":202,"v":-250},{"s":"e","t":204,"v":-265},{"s":"e","t":206,"v":-300},{"s":"e","t":208,"v":-345},{"s":"e","t":210,"v":-350},{"s":"e","t":212,"v":-355},{"s":"e","t":214,"v":-295},{"s":"e","t":216,"v":-282},{"s":"e","t":218,"v":-285},{"s":"e","t":220,"v":-352},{"s":"e","t":222,"v":-310},{"s":"e","t":224,"v":-330},{"s":"e","t":226,"v":-325},{"s":"e","t":227,"v":-306},{"s":"e","t":229,"v":-345},{"s":"e","t":231,"v":-355},{"s":"e","t":233,"v":-320},{"s":"e","t":235,"v":-350},{"s":"e","t":236,"v":-390},
{"s":"e","t":238,"v":-415},{"s":"e","t":240,"v":-440},{"s":"e","t":242,"v":-400},{"s":"e","t":243,"v":-348},{"s":"e","t":245,"v":-358},{"s":"e","t":247,"v":-362},{"s":"e","t":249,"v":-386},{"s":"e","t":251,"v":-375},{"s":"e","t":253,"v":-416},{"s":"e","t":255,"v":-420},{"s":"e","t":257,"v":-364},{"s":"e","t":259,"v":-375},{"s":"e","t":261,"v":-395},{"s":"e","t":263,"v":-403},{"s":"e","t":265,"v":-445},{"s":"e","t":266.5,"v":-478},{"s":"e","t":268,"v":-445},{"s":"e","t":271,"v":-377},{"s":"e","t":272.5,"v":-410},{"s":"e","t":275,"v":-425},
{"s":"e","t":277,"v":-461},{"s":"e","t":279,"v":-435},{"s":"e","t":281,"v":-450},{"s":"e","t":283,"v":-440},{"s":"e","t":285,"v":-461},{"s":"e","t":286,"v":-395},{"s":"e","t":288,"v":-377},{"s":"e","t":290,"v":-340},{"s":"e","t":291.4,"v":-267},{"s":"e","t":293,"v":-358},{"s":"e","t":295,"v":-340},{"s":"e","t":297,"v":-350},{"s":"e","t":299,"v":-375},{"s":"e","t":301,"v":-370},{"s":"e","t":302,"v":-320},{"s":"e","t":304,"v":-300},{"s":"e","t":305.5,"v":-272},{"s":"e","t":307.5,"v":-275},{"s":"e","t":309,"v":-300},{"s":"e","t":311,"v":-320},
{"s":"e","t":313,"v":-351},{"s":"e","t":314.6,"v":-325},{"s":"e","t":317,"v":-348},{"s":"e","t":319,"v":-356},{"s":"e","t":321.6,"v":-300},{"s":"e","t":323,"v":-293},{"s":"e","t":324.5,"v":-325},{"s":"e","t":326,"v":-288},{"s":"e","t":327.5,"v":-235},{"s":"e","t":330,"v":-242},{"s":"e","t":331.4,"v":-248},{"s":"e","t":333,"v":-290},{"s":"e","t":335.6,"v":-325},{"s":"e","t":338.4,"v":-306},{"s":"e","t":341,"v":-320},{"s":"e","t":344,"v":-287},{"s":"e","t":345.5,"v":-293},{"s":"e","t":346.8,"v":-242},{"s":"e","t":349,"v":-290},{"s":"e","t":351,"v":-265},
{"s":"e","t":353.9,"v":-222},{"s":"e","t":355.5,"v":-300},{"s":"e","t":357,"v":-320},{"s":"e","t":358,"v":-370},{"s":"e","t":359.5,"v":-306},{"s":"e","t":361,"v":-300},{"s":"e","t":362.3,"v":-261},{"s":"e","t":364,"v":-330},{"s":"e","t":365,"v":-345},
{"s":"f","t":0,"v":-195},{"s":"f","t":2,"v":-200},{"s":"f","t":5,"v":-215},{"s":"f","t":8,"v":-235},{"s":"f","t":10,"v":-245},{"s":"f","t":13,"v":-258},{"s":"f","t":15,"v":-270},{"s":"f","t":17,"v":-285},{"s":"f","t":19,"v":-270},{"s":"f","t":21,"v":-240},{"s":"f","t":23,"v":-225},{"s":"f","t":25,"v":-210},{"s":"f","t":27,"v":-200},{"s":"f","t":29,"v":-185},{"s":"f","t":31,"v":-170},{"s":"f","t":33,"v":-175},{"s":"f","t":35,"v":-162},{"s":"f","t":37,"v":-170},{"s":"f","t":39,"v":-155},{"s":"f","t":41,"v":-150},
{"s":"f","t":43,"v":-160},{"s":"f","t":45,"v":-165},{"s":"f","t":47,"v":-162},{"s":"f","t":49,"v":-170},{"s":"f","t":51,"v":-168},{"s":"f","t":53,"v":-172},{"s":"f","t":55,"v":-165},{"s":"f","t":57,"v":-170},{"s":"f","t":59,"v":-150},{"s":"f","t":60.5,"v":-88},{"s":"f","t":62,"v":-105},{"s":"f","t":64,"v":-115},{"s":"f","t":66,"v":-125},{"s":"f","t":68,"v":-118},{"s":"f","t":70,"v":-132},{"s":"f","t":72,"v":-120},{"s":"f","t":74,"v":-118},{"s":"f","t":76,"v":-93},{"s":"f","t":78,"v":-120},{"s":"f","t":80,"v":-132},
{"s":"f","t":82,"v":-100},{"s":"f","t":84,"v":-86},{"s":"f","t":86,"v":-116},{"s":"f","t":87.5,"v":-84},{"s":"f","t":89,"v":-120},{"s":"f","t":90,"v":-142},{"s":"f","t":92,"v":-110},{"s":"f","t":93.5,"v":-71},{"s":"f","t":95,"v":-90},{"s":"f","t":97,"v":-116},{"s":"f","t":99,"v":-118},{"s":"f","t":101,"v":-120},{"s":"f","t":103,"v":-122},{"s":"f","t":105,"v":-103},{"s":"f","t":107,"v":-105},{"s":"f","t":109,"v":-110},{"s":"f","t":111,"v":-116},{"s":"f","t":112.5,"v":-90},{"s":"f","t":114,"v":-100},{"s":"f","t":116,"v":-122},
{"s":"f","t":118,"v":-118},{"s":"f","t":120,"v":-125},{"s":"f","t":122,"v":-160},{"s":"f","t":124.4,"v":-200},{"s":"f","t":126.5,"v":-122},{"s":"f","t":128,"v":-130},{"s":"f","t":129.3,"v":-155},{"s":"f","t":131.5,"v":-122},{"s":"f","t":133.5,"v":-135},{"s":"f","t":135,"v":-148},{"s":"f","t":137,"v":-142},{"s":"f","t":139,"v":-160},{"s":"f","t":141,"v":-155},{"s":"f","t":142,"v":-220},{"s":"f","t":143,"v":-190},{"s":"f","t":145,"v":-210},{"s":"f","t":147,"v":-200},{"s":"f","t":149,"v":-205},{"s":"f","t":151,"v":-190},{"s":"f","t":152.5,"v":-168},
{"s":"f","t":154.5,"v":-190},{"s":"f","t":156,"v":-200},{"s":"f","t":158,"v":-185},{"s":"f","t":159.5,"v":-195},{"s":"f","t":161,"v":-177},{"s":"f","t":163.8,"v":-174},{"s":"f","t":166,"v":-200},{"s":"f","t":167.5,"v":-205},{"s":"f","t":169.4,"v":-215},{"s":"f","t":171,"v":-230},{"s":"f","t":173,"v":-240},{"s":"f","t":175.5,"v":-235},{"s":"f","t":178.5,"v":-206},{"s":"f","t":180,"v":-250},{"s":"f","t":181.5,"v":-270},{"s":"f","t":183,"v":-285},{"s":"f","t":184.5,"v":-275},{"s":"f","t":187,"v":-210},{"s":"f","t":189.5,"v":-230},{"s":"f","t":191,"v":-265},
{"s":"f","t":192.5,"v":-305},{"s":"f","t":194,"v":-313},{"s":"f","t":195.5,"v":-235},{"s":"f","t":197,"v":-240},{"s":"f","t":199.5,"v":-210},{"s":"f","t":202.4,"v":-197},{"s":"f","t":204,"v":-240},{"s":"f","t":206,"v":-248},{"s":"f","t":208,"v":-270},{"s":"f","t":210,"v":-290},{"s":"f","t":212,"v":-306},{"s":"f","t":214,"v":-235},{"s":"f","t":216,"v":-240},{"s":"f","t":218,"v":-255},{"s":"f","t":219.5,"v":-300},{"s":"f","t":221,"v":-290},{"s":"f","t":223.5,"v":-275},{"s":"f","t":225,"v":-280},{"s":"f","t":226.5,"v":-262},{"s":"f","t":228,"v":-287},
{"s":"f","t":229,"v":-313},{"s":"f","t":231,"v":-255},{"s":"f","t":232.5,"v":-265},{"s":"f","t":234,"v":-251},{"s":"f","t":236,"v":-313},{"s":"f","t":238,"v":-345},{"s":"f","t":240,"v":-358},{"s":"f","t":242,"v":-350},{"s":"f","t":243,"v":-364},{"s":"f","t":244.5,"v":-313},{"s":"f","t":246,"v":-310},{"s":"f","t":248,"v":-293},{"s":"f","t":250,"v":-320},{"s":"f","t":252,"v":-345},{"s":"f","t":254,"v":-325},{"s":"f","t":256,"v":-319},{"s":"f","t":258.5,"v":-338},{"s":"f","t":261,"v":-340},{"s":"f","t":264,"v":-345},{"s":"f","t":266,"v":-364},
{"s":"f","t":268,"v":-377},{"s":"f","t":270,"v":-370},{"s":"f","t":271.5,"v":-345},{"s":"f","t":273,"v":-360},{"s":"f","t":275.4,"v":-403},{"s":"f","t":276.8,"v":-338},{"s":"f","t":279,"v":-364},{"s":"f","t":281,"v":-377},{"s":"f","t":283.8,"v":-332},{"s":"f","t":286,"v":-375},{"s":"f","t":287,"v":-410},{"s":"f","t":289,"v":-420},{"s":"f","t":290,"v":-454},{"s":"f","t":292,"v":-325},{"s":"f","t":294,"v":-360},{"s":"f","t":296,"v":-377},{"s":"f","t":297.7,"v":-345},{"s":"f","t":300.5,"v":-377},{"s":"f","t":303.3,"v":-351},{"s":"f","t":306,"v":-293},
{"s":"f","t":307.5,"v":-274},{"s":"f","t":309.7,"v":-287},{"s":"f","t":311.5,"v":-305},{"s":"f","t":313.2,"v":-325},{"s":"f","t":315.3,"v":-312},{"s":"f","t":316.7,"v":-238},{"s":"f","t":318.8,"v":-338},{"s":"f","t":321.6,"v":-293},{"s":"f","t":323,"v":-300},{"s":"f","t":324.4,"v":-306},{"s":"f","t":327.2,"v":-242},{"s":"f","t":328.6,"v":-330},{"s":"f","t":330,"v":-338},{"s":"f","t":331.4,"v":-285},{"s":"f","t":332.8,"v":-280},{"s":"f","t":334.5,"v":-313},{"s":"f","t":336,"v":-315},{"s":"f","t":338,"v":-335},{"s":"f","t":339.8,"v":-351},{"s":"f","t":342.6,"v":-267},
{"s":"f","t":345.5,"v":-293},{"s":"f","t":348.3,"v":-261},{"s":"f","t":351,"v":-287},{"s":"f","t":352.5,"v":-229},{"s":"f","t":354,"v":-216},{"s":"f","t":355.3,"v":-313},{"s":"f","t":357,"v":-320},{"s":"f","t":358,"v":-325},{"s":"f","t":359.5,"v":-280},{"s":"f","t":361.6,"v":-293},{"s":"f","t":363.7,"v":-222},{"s":"f","t":365,"v":-240}]
},
"resolve":{"axis":{"x":"independent","y":"independent"}},
"layer":[
{"data":{"name":"g"},
 "mark":{"type":"line","strokeWidth":1.1,"clip":true},
 "encoding":{
  "x":{"field":"t","type":"quantitative","scale":{"domain":[0,365],"nice":false,"zero":false},
   "axis":{"orient":"bottom","values":[0,50,100,150,200,250,300,350],"tickSize":0,"domain":false,"labelPadding":12,"labelFontSize":17,"labelColor":"#000","labelFont":"Noto Sans","labelFlush":false,
    "title":"材齢(日)","titleX":861,"titleY":45,"titleAlign":"right","titleBaseline":"middle","titleFont":"Noto Sans CJK JP","titleFontSize":16,"titleFontWeight":"normal","titleColor":"#000"}},
  "y":{"field":"v","type":"quantitative","scale":{"domain":[-1000,0],"nice":false,"zero":false},
   "axis":{"orient":"left","values":[-1000,-900,-800,-700,-600,-500,-400,-300,-200,-100,0],"labelExpr":"'' + datum.value","tickSize":4,"tickColor":"#000","tickWidth":1.5,"domain":true,"domainColor":"#000","domainWidth":2,"labelPadding":10,"labelFontSize":17,"labelColor":"#000","labelFont":"Noto Sans",
    "title":"ひずみ(μ)","titleX":-80,"titleY":-8,"titleAngle":-90,"titleAlign":"right","titleBaseline":"middle","titleFont":"Noto Sans CJK JP","titleFontSize":16,"titleFontWeight":"normal","titleColor":"#000"}},
  "color":{"datum":"a","type":"nominal","title":null,
   "scale":{"domain":["a","b","c","d","e","f"],"range":["#4d4d4d","#C00000","#FFC000","#0070C0","#9BBB59","#C0504D"]},
   "legend":{"title":null,"orient":"none","legendX":30,"legendY":323,"direction":"vertical","symbolType":"stroke","symbolSize":729,"symbolOffset":37.5,"labelOffset":7.5,
    "labelFont":"Noto Sans CJK JP","labelFontSize":17,"labelColor":"#000","labelLimit":500,"rowPadding":10,"padding":12,"strokeColor":"#999999","fillColor":"#ffffff",
    "labelExpr":"datum.label == 'a' ? '100×100×400mm供試体' : datum.label == 'b' ? '10分1ステップ（伝達係数100倍）' : datum.label == 'c' ? '10分1ステップ（伝達係数10倍）' : datum.label == 'd' ? '10分1ステップ（伝達係数1倍）' : datum.label == 'e' ? '6時間1ステップ(伝達100倍）' : '24時間1ステップ(伝達100倍）'",
    "encode":{"symbols":{"update":{"strokeDash":{"signal":"datum.value == 'd' ? [6,4] : [1,0]"},"strokeWidth":{"signal":"datum.value == 'a' ? 1 : (datum.value == 'e' || datum.value == 'f') ? 1.75 : 2.5"}}}}}}
 }},
{"data":{"name":"m"},
 "transform":[{"fold":["b","c"],"as":["s","v"]}],
 "mark":{"type":"line","strokeWidth":2.5,"clip":true},
 "encoding":{
  "x":{"field":"t","type":"quantitative","scale":{"domain":[0,365],"nice":false,"zero":false},
   "axis":{"orient":"top","values":[0,50,100,150,200,250,300,350],"labels":false,"tickSize":5,"tickColor":"#000","tickWidth":1.5,"domain":true,"domainColor":"#000","domainWidth":2,"title":null}},
  "y":{"field":"v","type":"quantitative","axis":null},
  "color":{"field":"s","type":"nominal","title":null,"scale":{"domain":["a","b","c","d","e","f"],"range":["#4d4d4d","#C00000","#FFC000","#0070C0","#9BBB59","#C0504D"]}}
 }},
{"data":{"name":"m"},
 "mark":{"type":"line","strokeWidth":2.5,"strokeDash":[6,4],"clip":true},
 "encoding":{
  "x":{"field":"t","type":"quantitative","axis":null},
  "y":{"field":"d","type":"quantitative","axis":null},
  "color":{"datum":"d","type":"nominal","title":null,"scale":{"domain":["a","b","c","d","e","f"],"range":["#4d4d4d","#C00000","#FFC000","#0070C0","#9BBB59","#C0504D"]}}
 }},
{"data":{"name":"h"},
 "mark":{"type":"line","strokeWidth":1.75,"clip":true},
 "encoding":{
  "x":{"field":"t","type":"quantitative","axis":null},
  "y":{"field":"v","type":"quantitative","axis":null},
  "color":{"field":"s","type":"nominal","title":null,"scale":{"domain":["a","b","c","d","e","f"],"range":["#4d4d4d","#C00000","#FFC000","#0070C0","#9BBB59","#C0504D"]}}
 }}
]
}
